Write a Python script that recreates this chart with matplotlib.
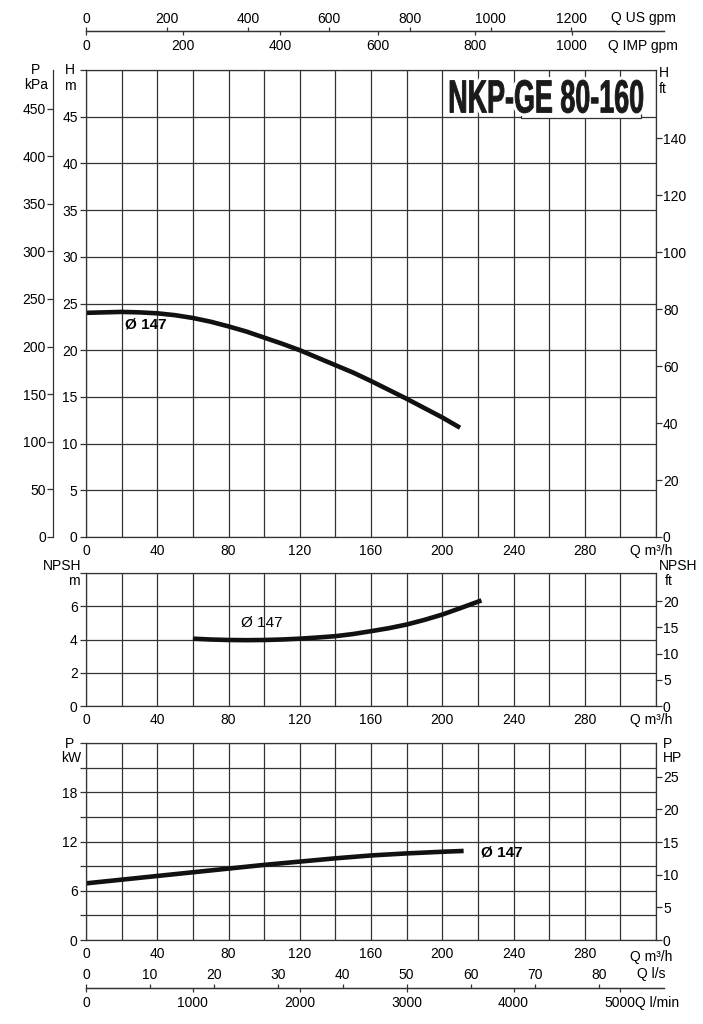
import numpy as np
import matplotlib
matplotlib.use('Agg')
import matplotlib.pyplot as plt
import matplotlib.patheffects as pe
from matplotlib.textpath import TextPath
from matplotlib.patches import PathPatch, Rectangle
from matplotlib.lines import Line2D
from matplotlib.font_manager import FontProperties
from matplotlib.transforms import Affine2D

plt.rcParams['font.family'] = ['Liberation Sans', 'DejaVu Sans']
plt.rcParams['font.size'] = 10

# curve data (Q in m3/h)
q_head = [0, 10, 20, 30, 40, 50, 60, 70, 80, 90, 100, 110, 120, 130, 140, 150,
          160, 170, 180, 190, 200, 210]
head_m = [24.0, 24.05, 24.1, 24.05, 23.95, 23.75, 23.45, 23.05, 22.55, 22.0, 21.35,
          20.7, 20.0, 19.2, 18.4, 17.6, 16.7, 15.75, 14.8, 13.8, 12.8, 11.7]
q_npsh = [60, 70, 80, 90, 100, 110, 120, 130, 140, 150, 160, 170, 180, 190, 200, 210, 222]
npsh_m = [4.05, 4.0, 3.97, 3.96, 3.97, 4.0, 4.05, 4.12, 4.2, 4.33, 4.5, 4.68, 4.9,
          5.18, 5.5, 5.88, 6.35]
q_pow = [0, 20, 40, 60, 80, 100, 120, 140, 160, 180, 200, 212]
pow_kw = [6.9, 7.35, 7.8, 8.25, 8.7, 9.15, 9.55, 9.95, 10.3, 10.55, 10.75, 10.85]

title = "NKP-GE 80-160"
curve_label = "Ø 147"

q_ticks = [0, 40, 80, 120, 160, 200, 240, 280]
us_gpm_ticks = [0, 200, 400, 600, 800, 1000, 1200]
imp_gpm_ticks = [0, 200, 400, 600, 800, 1000]
ls_ticks = [0, 10, 20, 30, 40, 50, 60, 70, 80]
lmin_ticks = [0, 1000, 2000, 3000, 4000, 5000]
kpa_ticks = [0, 50, 100, 150, 200, 250, 300, 350, 400, 450]
head_ft_ticks = [0, 20, 40, 60, 80, 100, 120, 140]
npsh_ft_ticks = [0, 5, 10, 15, 20]
hp_ticks = [0, 5, 10, 15, 20, 25]

W, H = 703, 1024
GRID = '#333333'
LINE = '#111111'

fig = plt.figure(figsize=(W / 100, H / 100), dpi=100)


def rect(x0, y_top, x1, y_bot):
    return [x0 / W, 1 - y_bot / H, (x1 - x0) / W, (y_bot - y_top) / H]


def ftext(x, y, s, **kw):
    fig.text(x / W, 1 - y / H, s, va='center', **kw)


X0, X1 = 86, 656
QMAX = 320.0
QLINE = (664 - 86) / (X1 - X0) * QMAX


def panel(y_top, y_bot, ymax, ystep, ylabels):
    ax = fig.add_axes(rect(X0, y_top, X1, y_bot))
    ax.set_xlim(0, QMAX)
    ax.set_ylim(0, ymax)
    ax.set_xticks(np.arange(0, QMAX + 1, 20))
    ax.set_xticklabels([str(int(v)) if v in q_ticks else '' for v in np.arange(0, QMAX + 1, 20)])
    ax.tick_params(axis='x', length=0, pad=5)
    yt = np.arange(0, ymax + 0.01, ystep)
    ax.set_yticks(yt)
    ax.set_yticklabels([str(int(v)) if int(v) in ylabels else '' for v in yt])
    ax.tick_params(axis='y', length=4, width=0.9, pad=2, color=GRID)
    ax.grid(True, color=GRID, lw=0.9)
    for s in ax.spines.values():
        s.set_color(GRID)
        s.set_linewidth(0.9)
    return ax


def right_axis(ax, top, ticks):
    ax2 = ax.twinx()
    ax2.set_ylim(0, top)
    ax2.set_yticks(ticks)
    ax2.tick_params(axis='y', length=4, width=0.9, pad=1, color=GRID)
    for s in ax2.spines.values():
        s.set_visible(False)
    return ax2


# --- head panel ---
ax_h = panel(70, 537, 50, 5, list(range(0, 50, 5)))
ax_h.plot(q_head, head_m, color=LINE, lw=3.3, solid_capstyle='butt', solid_joinstyle='round')
ax_h.text(22, 22.8, curve_label, fontsize=11, fontweight='bold', va='center')
right_axis(ax_h, 50 / 0.3048, head_ft_ticks)

ax_kpa = ax_h.twinx()
ax_kpa.set_ylim(0, 50 * 9.81)
ax_kpa.set_yticks(kpa_ticks)
for k, s in ax_kpa.spines.items():
    s.set_visible(k == 'left')
ax_kpa.spines['left'].set_position(('outward', 33 * 0.72))
ax_kpa.spines['left'].set_color(GRID)
ax_kpa.spines['left'].set_linewidth(0.9)
ax_kpa.yaxis.set_ticks_position('left')
ax_kpa.tick_params(axis='y', length=4, width=0.9, pad=1, color=GRID)

# --- NPSH panel ---
ax_n = panel(573, 706, 8, 2, [0, 2, 4, 6])
ax_n.plot(q_npsh, npsh_m, color=LINE, lw=3.3, solid_capstyle='butt', solid_joinstyle='round')
ax_n.text(87, 5.0, curve_label, fontsize=11, va='center')
right_axis(ax_n, 8 / 0.315, npsh_ft_ticks)

# --- power panel ---
ax_p = panel(743, 940, 24, 3, [0, 6, 12, 18])
ax_p.plot(q_pow, pow_kw, color=LINE, lw=3.3, solid_capstyle='butt', solid_joinstyle='round')
ax_p.text(222, 10.7, curve_label, fontsize=11, fontweight='bold', va='center')
right_axis(ax_p, 24 / 0.795, hp_ticks)


# --- extra flow scales ---
def scale_axis(y, factor, ticks, up, pad):
    ax = fig.add_axes(rect(X0, y, 664, y))
    ax.set_xlim(0, QLINE / factor)
    ax.set_ylim(0, 1)
    ax.set_yticks([])
    ax.patch.set_visible(False)
    for k, s in ax.spines.items():
        s.set_visible(k == 'bottom')
    ax.spines['bottom'].set_color(GRID)
    ax.spines['bottom'].set_linewidth(0.9)
    ax.set_xticks(ticks)
    if up:
        ax.xaxis.set_ticks_position('top')
        ax.xaxis.set_label_position('top')
    ax.tick_params(axis='x', direction='out', length=3, width=0.9, pad=pad, color=GRID)
    return ax


scale_axis(31, 0.22712, us_gpm_ticks, True, 0.5)
scale_axis(31, 0.27277, imp_gpm_ticks, False, 3)
scale_axis(988, 3.6, ls_ticks, True, 1.5)
scale_axis(988, 0.06, lmin_ticks, False, 3)

ftext(611, 18, "Q US gpm")
ftext(608, 46, "Q IMP gpm")
ftext(637, 974, "Q l/s")
ftext(635, 1003, "Q l/min")
for yy in (551, 720, 957):
    ftext(630, yy, "Q m³/h")

# unit labels
ftext(36, 70, "P", ha='center')
ftext(36, 85, "kPa", ha='center')
ftext(70, 70, "H", ha='center')
ftext(70, 86, "m", ha='center')
ftext(659, 73, "H")
ftext(659, 89, "ft")
ftext(62, 566, "NPSH", ha='center')
ftext(74, 581, "m", ha='center')
ftext(659, 566, "NPSH")
ftext(665, 581, "ft")
ftext(70, 744, "P", ha='center')
ftext(71, 758, "kW", ha='center')
ftext(668, 744, "P", ha='center')
ftext(672, 758, "HP", ha='center')

# --- title block ---
fig.add_artist(Rectangle((521 / W, 1 - 118 / H), (641 - 521) / W, (118 - 80) / H,
                         transform=fig.transFigure, facecolor='white', edgecolor='none', zorder=3))
fig.add_artist(Line2D([521 / W, 521 / W, 641 / W, 641 / W],
                      [1 - 113 / H, 1 - 118 / H, 1 - 118 / H, 1 - 113 / H],
                      transform=fig.transFigure, color=GRID, lw=0.9, zorder=4))
fp = FontProperties(family=['Liberation Sans Narrow', 'Liberation Sans'], weight='bold')
tp = TextPath((0, 0), title, size=40, prop=fp)
ext = tp.get_extents()
sx = (643 - 450) / ext.width
sy = (113 - 80) / ext.height
tr = (Affine2D().translate(-ext.x0, -ext.y0).scale(sx / 100, sy / 100)
      .translate(450 / 100, (H - 113) / 100) + fig.dpi_scale_trans)
patch = PathPatch(tp, transform=tr, facecolor='#1a1a1a', edgecolor='#1a1a1a', lw=0.6, zorder=5)
patch.set_path_effects([pe.Stroke(linewidth=5, foreground='white'), pe.Normal()])
fig.add_artist(patch)

fig.savefig('out.png', dpi=100)
